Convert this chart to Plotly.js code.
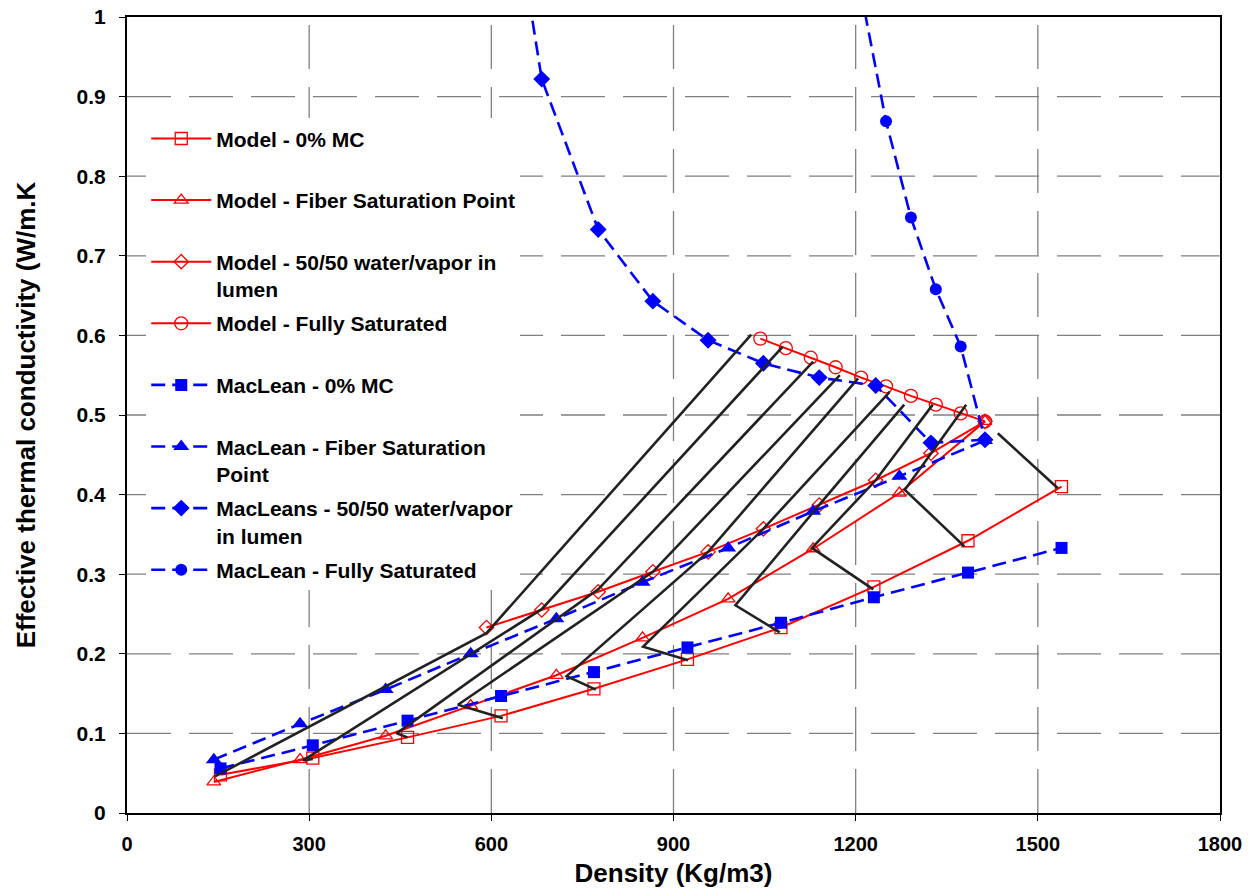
<!DOCTYPE html>
<html>
<head>
<meta charset="utf-8">
<script src="https://cdn.plot.ly/plotly-3.0.1.min.js"></script>
<style>
  html, body { margin: 0; padding: 0; background: #fff; }
  #chart { width: 1252px; height: 888px; }
</style>
</head>
<body>
<div id="chart"></div>
<script>
// Density (kg/m3) of each porosity step, per moisture state
const densityDry = [154, 306, 462, 616, 769, 923, 1077, 1230, 1385, 1539];
const densityFSP = [143, 285, 426, 566, 707, 849, 990, 1130, 1272, 1413];
const densityHalf = [592, 683, 776, 866, 957, 1048, 1140, 1233, 1324, 1413];
const densitySat = [1043, 1085, 1126, 1167, 1209, 1250, 1291, 1332, 1373, 1413];

// Effective thermal conductivity (W/m.K) - model
const modelDry = [0.048, 0.069, 0.095, 0.122, 0.156, 0.193, 0.233, 0.284, 0.342, 0.410];
const modelFSP = [0.039, 0.067, 0.097, 0.135, 0.173, 0.220, 0.269, 0.332, 0.402, 0.492];
const modelHalf = [0.233, 0.255, 0.278, 0.303, 0.328, 0.357, 0.387, 0.418, 0.452, 0.492];
const modelSat = [0.596, 0.584, 0.572, 0.560, 0.547, 0.536, 0.524, 0.513, 0.502, 0.492];

// Effective thermal conductivity (W/m.K) - MacLean
const macDry = [0.056, 0.085, 0.116, 0.147, 0.177, 0.208, 0.239, 0.271, 0.302, 0.333];
const macFSP = [0.067, 0.112, 0.155, 0.200, 0.244, 0.290, 0.333, 0.379, 0.423, 0.468];
const macHalf = [1.36, 0.922, 0.733, 0.643, 0.594, 0.565, 0.547, 0.537, 0.465, 0.469];
const macSat = [2.0, 1.7, 1.45, 1.23, 1.03, 0.869, 0.748, 0.658, 0.586, 0.469];

// Iso-porosity guide lines (density, conductivity) drawn over the curves
const isoX1 = [145, 592, 1028];            const isoY1 = [0.046, 0.226, 0.601];
const isoX2 = [306, 290, 683, 1080];       const isoY2 = [0.068, 0.066, 0.256, 0.586];
const isoX3 = [462, 444, 776, 1130];       const isoY3 = [0.095, 0.100, 0.281, 0.567];
const isoX4 = [619, 545, 866, 1174];       const isoY4 = [0.119, 0.136, 0.303, 0.550];
const isoX5 = [772, 724, 957, 1204];       const isoY5 = [0.155, 0.172, 0.328, 0.546];
const isoX6 = [924, 850, 1048, 1256];      const isoY6 = [0.192, 0.209, 0.357, 0.529];
const isoX7 = [1075, 1002, 1140, 1280];    const isoY7 = [0.227, 0.261, 0.387, 0.513];
const isoX8 = [1229, 1128, 1233, 1327];    const isoY8 = [0.281, 0.333, 0.418, 0.513];
const isoX9 = [1379, 1281, 1382];          const isoY9 = [0.335, 0.406, 0.513];
const isoX10 = [1533, 1434];               const isoY10 = [0.408, 0.477];

// Axis extents and grid positions
const xRange = [0, 1800];
const yRange = [0, 1];
const xGrid = [300, 600, 900, 1200, 1500];
const yGrid = [0.1, 0.2, 0.3, 0.4, 0.5, 0.6, 0.7, 0.8, 0.9];

const seriesNames = [
  'Model - 0% MC',
  'Model - Fiber Saturation Point',
  'Model - 50/50 water/vapor in<br>lumen',
  'Model - Fully Saturated',
  'MacLean - 0% MC',
  'MacLean - Fiber Saturation<br>Point',
  'MacLeans - 50/50 water/vapor<br>in lumen',
  'MacLean - Fully Saturated'
];

const RED = '#FF0000';
const BLUE = '#0000FF';
const FONT = 'Liberation Sans, Arial, Helvetica, sans-serif';

// legend rows are two text lines tall so they come out evenly spaced
function legendLabel(s, last) {
  return (s.indexOf('<br>') >= 0 || last) ? s : s + '<br> ';
}

function modelTrace(x, y, name, symbol, size, grp) {
  return {
    x: x, y: y, name: legendLabel(name), type: 'scatter', mode: 'lines+markers',
    legendgroup: grp,
    line: { color: RED, width: 2 },
    marker: { symbol: symbol, size: size, color: RED, line: { color: RED, width: 1.3 } }
  };
}

function macTrace(x, y, name, symbol, size, grp, last) {
  return {
    x: x, y: y, name: legendLabel(name, last), type: 'scatter', mode: 'lines+markers',
    legendgroup: grp,
    line: { color: BLUE, width: 2.6, dash: '14px,7px' },
    marker: { symbol: symbol, size: size, color: BLUE, line: { color: BLUE, width: 0 } }
  };
}

// long-dash grey grid lines
function gridTrace(x, y) {
  return { x: x, y: y, type: 'scatter', mode: 'lines', showlegend: false,
    hoverinfo: 'skip', line: { color: '#808080', width: 1.3, dash: '44px,18px' } };
}
const gridTraces = xGrid.map(function (v) { return gridTrace([v, v], yRange); })
  .concat(yGrid.map(function (v) { return gridTrace(xRange, [v, v]); }));

const isoLines = [
  [isoX1, isoY1], [isoX2, isoY2], [isoX3, isoY3], [isoX4, isoY4], [isoX5, isoY5],
  [isoX6, isoY6], [isoX7, isoY7], [isoX8, isoY8], [isoX9, isoY9], [isoX10, isoY10]
].map(function (p) {
  return {
    x: p[0], y: p[1], type: 'scatter', mode: 'lines', showlegend: false,
    hoverinfo: 'skip', line: { color: '#222222', width: 2.6 }
  };
});

const data = gridTraces.concat([
  modelTrace(densityDry, modelDry, seriesNames[0], 'square-open', 12, 'g1'),
  modelTrace(densityFSP, modelFSP, seriesNames[1], 'triangle-up-open', 12, 'g2'),
  modelTrace(densityHalf, modelHalf, seriesNames[2], 'diamond-open', 11, 'g3'),
  modelTrace(densitySat, modelSat, seriesNames[3], 'circle-open', 13, 'g4'),
  macTrace(densityDry, macDry, seriesNames[4], 'square', 12, 'g5'),
  macTrace(densityFSP, macFSP, seriesNames[5], 'triangle-up', 14, 'g6'),
  macTrace(densityHalf, macHalf, seriesNames[6], 'diamond', 13, 'g7'),
  macTrace(densitySat, macSat, seriesNames[7], 'circle', 12, 'g8', true)
]).concat(isoLines);

const axisCommon = {
  showline: true, linecolor: '#000', linewidth: 2, mirror: true,
  ticks: 'outside', ticklen: 6, tickcolor: '#000', tickwidth: 1,
  showgrid: false, zeroline: false, automargin: false
};

const layout = {
  width: 1252, height: 888,
  paper_bgcolor: '#fff', plot_bgcolor: '#fff',
  margin: { l: 127, r: 32, t: 17, b: 75, pad: 0 },
  showlegend: true,
  xaxis: Object.assign({}, axisCommon, {
    range: xRange, dtick: 300, tick0: 0,
    ticklabelstandoff: 6,
    tickfont: { family: FONT, size: 20, color: '#000', weight: 'bold' },
    title: { text: 'Density (Kg/m3)', standoff: 12,
      font: { family: FONT, size: 26, color: '#000', weight: 'bold' } }
  }),
  yaxis: Object.assign({}, axisCommon, {
    range: yRange, dtick: 0.1, tick0: 0,
    ticklabelstandoff: 9,
    tickfont: { family: FONT, size: 21, color: '#000', weight: 'bold' },
    title: { text: 'Effective thermal conductivity (W/m.K', standoff: 33,
      font: { family: FONT, size: 26, color: '#000', weight: 'bold' } }
  }),
  legend: {
    x: 0.0176, y: 0.8727, xanchor: 'left', yanchor: 'top',
    bgcolor: '#fff', borderwidth: 0,
    traceorder: 'grouped', tracegroupgap: 4, valign: 'top',
    itemwidth: 60,
    font: { family: FONT, size: 21, color: '#000', weight: 'bold' }
  }
};

Plotly.newPlot('chart', data, layout, { staticPlot: true, displayModeBar: false });
</script>
</body>
</html>
